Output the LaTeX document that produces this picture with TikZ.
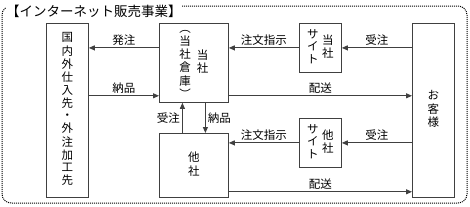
\documentclass[tikz,border=0pt]{standalone}
\usepackage{fontspec}
\setmainfont{Noto Sans CJK JP}
\usetikzlibrary{arrows.meta,positioning}

\newcommand\tate[1]{\begin{tabular}[c]{@{}c@{}}#1\end{tabular}}
\newcommand\lblfont{\fontsize{11.5}{12}\selectfont}

\begin{document}
\begin{tikzpicture}[x=1pt, y=-1pt,
    box/.style={draw=black!75, line width=0.8pt, inner sep=0pt, anchor=north west,
                font=\lblfont, align=center},
    lbl/.style={font=\lblfont, inner sep=2pt},
    arr/.style={-{Triangle[length=6pt,width=5pt]}, draw=black!75, line width=1pt}]
  \useasboundingbox (0,0) rectangle (470,206);
  \draw[densely dotted, line width=1pt, rounded corners=9pt] (2,6) rectangle (467,203);
  \node[anchor=west, fill=white, inner sep=0pt, font=\fontsize{13.5}{14}\selectfont]
    (title) at (6,11) {【インターネット販売事業】};
  % boxes
  \node[box, minimum width=42pt, minimum height=174pt] (supplier) at (46,23)
    {\tate{国\\内\\外\\仕\\入\\先\\・\\外\\注\\加\\工\\先}};
  \node[box, minimum width=69pt, minimum height=79pt] (tosha) at (159,23)
    {\tate{︵\\当\\社\\倉\\庫\\︶}\hspace{6pt}\tate{当\\社}};
  \node[box, minimum width=42pt, minimum height=49pt] (siteA) at (299,23)
    {\tate{サ\\イ\\ト}\hspace{3.5pt}\tate{当\\社}};
  \node[box, minimum width=42pt, minimum height=174pt] (okyaku) at (412,23)
    {\tate{お\\客\\様}};
  \node[box, minimum width=69pt, minimum height=64pt] (tasha) at (159,133)
    {\tate{他\\社}};
  \node[box, minimum width=42pt, minimum height=49pt] (siteB) at (299,118)
    {\tate{サ\\イ\\ト}\hspace{3.5pt}\tate{他\\社}};
  % upper row
  \draw[arr] (tosha.west |- siteA.west) -- node[above, lbl] {発注} (supplier.east |- siteA.west);
  \draw[arr] (siteA.west) -- node[above, lbl] {注文指示} (tosha.east |- siteA.west);
  \draw[arr] (okyaku.west |- siteA.east) -- node[above, lbl] {受注} (siteA.east);
  \coordinate (tA) at ([yshift=7pt]tosha.south west);
  \coordinate (tB) at ([yshift=7pt]tosha.south east);
  \draw[arr] (supplier.east |- tA) -- node[above, lbl] {納品} (tA);
  \draw[arr] (tB) -- node[above, lbl] {配送} (okyaku.west |- tB);
  % between the two companies
  \draw[arr] ([xshift=-11.5pt]tasha.north) -- node[left, lbl] {受注} ([xshift=-11.5pt]tosha.south);
  \draw[arr] ([xshift=11.5pt]tosha.south) -- node[right, lbl] {納品} ([xshift=11.5pt]tasha.north);
  % lower row
  \draw[arr] (siteB.west) -- node[above, lbl] {注文指示} (tasha.east |- siteB.west);
  \draw[arr] (okyaku.west |- siteB.east) -- node[above, lbl] {受注} (siteB.east);
  \coordinate (oB) at ([yshift=6pt]tasha.south east);
  \draw[arr] (oB) -- node[above, lbl] {配送} (okyaku.west |- oB);
\end{tikzpicture}
\end{document}
